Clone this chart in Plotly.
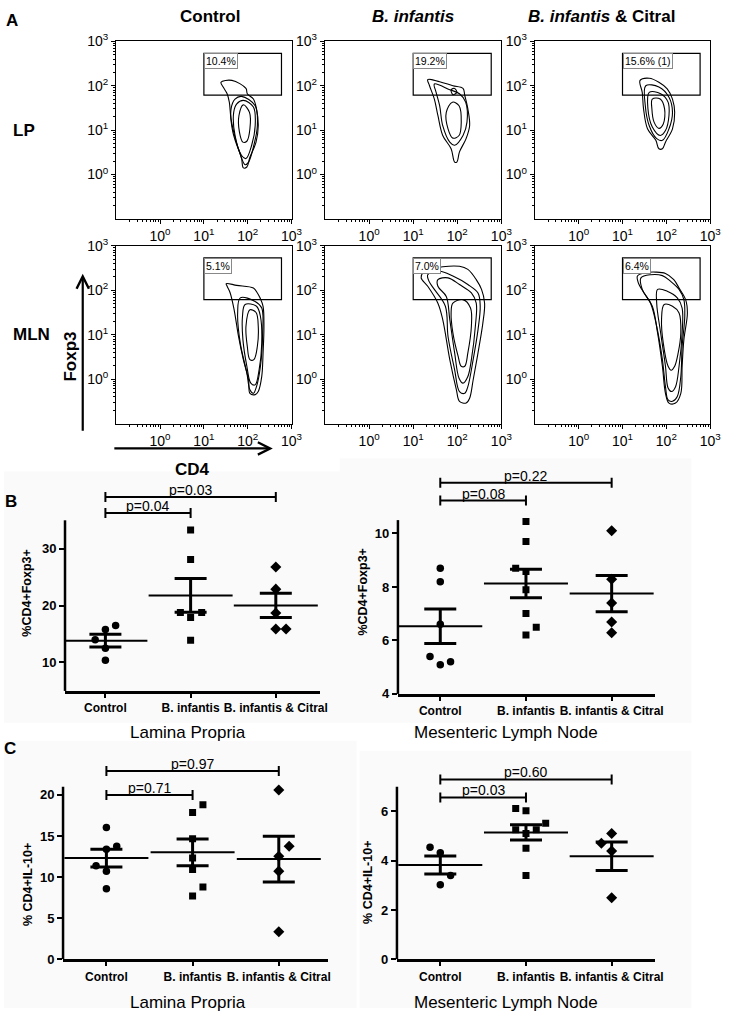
import numpy as np
import plotly.graph_objects as go

W, H = 733, 1016
FONT = "Liberation Sans, Arial, Helvetica, sans-serif"

# ======================= DATA =======================
# ---- Panel A: flow cytometry (x = log10 CD4, y = log10 Foxp3) ----
flow_col_titles = ["<b>Control</b>", "<b><i>B. infantis</i></b>", "<b><i>B. infantis</i> & Citral</b>"]
flow_row_titles = ["<b>LP</b>", "<b>MLN</b>"]
decade_vals = [0, 1, 2, 3]
decade_text = ["10<sup>0</sup>", "10<sup>1</sup>", "10<sup>2</sup>", "10<sup>3</sup>"]
gate_x = [1.0, 2.77]
gate_y = [1.79, 2.73]
lp_gate_labels = ["10.4%", "19.2%", "15.6% (1)"]
mln_gate_labels = ["5.1%", "7.0%", "6.4%"]

lp_control_contours = [
    [(1.39, 2.08), (1.64, 2.12), (1.96, 1.94), (1.99, 1.82), (2.13, 1.70), (2.20, 1.48), (2.24, 1.10),
     (2.19, 0.73), (2.05, 0.39), (1.98, 0.17), (1.90, 0.15), (1.86, 0.36), (1.74, 0.73), (1.62, 1.25),
     (1.58, 1.63), (1.53, 1.82), (1.44, 1.97)],
    [(1.86, 1.76), (2.17, 1.55), (2.22, 1.10), (2.14, 0.66), (2.02, 0.28), (1.94, 0.22), (1.81, 0.51),
     (1.66, 0.96), (1.62, 1.48), (1.71, 1.70)],
    [(1.90, 1.67), (2.13, 1.52), (2.17, 1.10), (2.09, 0.66), (1.96, 0.36), (1.86, 0.43), (1.71, 0.88),
     (1.68, 1.40), (1.75, 1.59)],
    [(1.90, 1.57), (2.04, 1.40), (2.05, 1.03), (1.98, 0.75), (1.89, 0.73), (1.81, 0.96), (1.80, 1.33)],
]
lp_binf_contours = [
    [(1.33, 2.14), (1.60, 2.09), (1.90, 2.00), (2.13, 1.94), (2.17, 1.78), (2.24, 1.48), (2.28, 1.10),
     (2.20, 0.81), (2.05, 0.51), (1.99, 0.28), (1.94, 0.28), (1.86, 0.58), (1.67, 0.88), (1.56, 1.33),
     (1.48, 1.70), (1.37, 2.00)],
    [(1.48, 2.04), (1.83, 1.91), (2.05, 1.82), (2.19, 1.63), (2.22, 1.18), (2.13, 0.88), (1.94, 0.66),
     (1.83, 0.73), (1.67, 1.10), (1.60, 1.55), (1.52, 1.85)],
    [(1.89, 1.63), (2.04, 1.55), (2.09, 1.18), (2.04, 0.88), (1.90, 0.82), (1.79, 1.03), (1.75, 1.40)],
    [(1.86, 1.91), (1.94, 1.94), (1.99, 1.85), (1.90, 1.80)],
]
lp_citral_contours = [
    [(1.40, 2.12), (1.61, 2.17), (1.83, 2.08), (2.02, 1.93), (2.14, 1.70), (2.19, 1.40), (2.14, 1.03),
     (1.98, 0.73), (1.91, 0.58), (1.83, 0.58), (1.76, 0.77), (1.57, 1.03), (1.48, 1.48), (1.45, 1.85)],
    [(1.53, 2.00), (1.83, 1.97), (2.06, 1.74), (2.14, 1.40), (2.06, 1.03), (1.91, 0.77), (1.78, 0.81),
     (1.61, 1.10), (1.52, 1.55)],
    [(1.61, 1.85), (1.87, 1.82), (2.04, 1.63), (2.06, 1.33), (1.98, 0.99), (1.86, 0.88), (1.68, 1.07),
     (1.58, 1.48)],
    [(1.68, 1.70), (1.86, 1.70), (1.96, 1.48), (1.93, 1.14), (1.83, 1.04), (1.72, 1.18), (1.67, 1.48)],
]
mln_control_contours = [
    [(1.51, 2.15), (1.75, 2.11), (2.13, 2.05), (2.22, 1.94), (2.28, 1.83), (2.35, 1.64), (2.37, 1.19),
     (2.35, 0.59), (2.32, 0.06), (2.24, -0.28), (2.17, -0.35), (2.05, -0.32), (2.02, -0.02), (1.90, 0.44),
     (1.79, 0.96), (1.69, 1.56), (1.60, 1.94), (1.53, 2.09)],
    [(1.83, 1.83), (2.17, 1.75), (2.32, 1.60), (2.34, 1.04), (2.29, 0.29), (2.20, -0.17), (2.13, -0.32),
     (2.05, -0.24), (1.98, 0.14), (1.83, 0.81), (1.77, 1.49)],
    [(1.94, 1.68), (2.20, 1.64), (2.29, 1.41), (2.32, 0.81), (2.26, 0.21), (2.17, -0.13), (2.07, -0.09),
     (1.98, 0.29), (1.89, 0.89), (1.88, 1.41)],
    [(2.05, 1.56), (2.19, 1.50), (2.24, 1.19), (2.22, 0.74), (2.14, 0.44), (2.05, 0.44), (1.99, 0.74),
     (1.96, 1.19)],
]
mln_binf_contours = [
    [(1.22, 2.39), (1.45, 2.48), (1.67, 2.53), (2.05, 2.54), (2.24, 2.47), (2.43, 2.24), (2.55, 2.02),
     (2.62, 1.71), (2.58, 1.26), (2.47, 0.59), (2.36, -0.02), (2.28, -0.43), (2.20, -0.54), (2.05, -0.50),
     (1.98, -0.24), (1.83, 0.44), (1.67, 1.34), (1.56, 1.71), (1.33, 2.09), (1.18, 2.28)],
    [(1.33, 2.35), (1.60, 2.43), (1.90, 2.32), (2.24, 2.13), (2.47, 1.94), (2.52, 1.64), (2.47, 1.11),
     (2.36, 0.44), (2.24, -0.17), (2.17, -0.32), (2.05, -0.28), (1.94, 0.21), (1.79, 0.96), (1.73, 1.64),
     (1.48, 2.02), (1.36, 2.20)],
    [(1.56, 2.24), (1.79, 2.28), (2.05, 2.13), (2.32, 1.94), (2.43, 1.71), (2.41, 1.19), (2.32, 0.44),
     (2.24, 0.06), (2.13, -0.09), (2.04, 0.02), (1.94, 0.59), (1.83, 1.34), (1.75, 1.86), (1.56, 2.09)],
    [(1.90, 1.71), (2.13, 1.79), (2.30, 1.60), (2.32, 1.19), (2.24, 0.59), (2.17, 0.29), (2.09, 0.29),
     (2.02, 0.51), (1.90, 1.04), (1.86, 1.49)],
]
mln_citral_contours = [
    [(1.34, 2.32), (1.49, 2.39), (1.76, 2.41), (1.98, 2.38), (2.17, 2.24), (2.29, 2.05), (2.44, 1.79),
     (2.48, 1.49), (2.40, 0.89), (2.36, 0.29), (2.33, -0.32), (2.21, -0.54), (2.06, -0.54), (1.98, -0.32),
     (1.91, 0.29), (1.80, 1.04), (1.68, 1.64), (1.49, 1.94), (1.36, 2.17)],
    [(1.42, 2.28), (1.64, 2.35), (1.91, 2.33), (2.10, 2.20), (2.29, 2.02), (2.40, 1.79), (2.42, 1.41),
     (2.36, 0.74), (2.33, 0.06), (2.25, -0.39), (2.14, -0.50), (2.04, -0.47), (1.98, -0.17), (1.91, 0.44),
     (1.78, 1.19), (1.64, 1.71), (1.45, 2.02)],
    [(1.80, 2.02), (2.02, 1.98), (2.25, 1.83), (2.36, 1.60), (2.36, 1.04), (2.29, 0.29), (2.21, -0.17),
     (2.12, -0.28), (2.04, -0.20), (1.98, 0.29), (1.87, 1.04), (1.78, 1.71)],
    [(1.95, 1.68), (2.14, 1.64), (2.29, 1.49), (2.33, 1.04), (2.27, 0.59), (2.19, 0.29), (2.11, 0.20),
     (2.04, 0.29), (1.93, 0.81), (1.89, 1.34)],
]

# ---- Panels B & C: scatter with mean +/- SEM ----
categories = ["Control", "B. infantis", "B. infantis & Citral"]

lp_foxp3_control = [15.8, 16.5, 14.0, 12.5, 10.4]
lp_foxp3_control_dx = [0, 0.12, -0.12, 0, 0]
lp_foxp3_binf = [33.3, 28.1, 18.8, 17.9, 18.8, 13.9]
lp_foxp3_binf_dx = [0, 0, -0.12, 0, 0.13, 0]
lp_foxp3_citral = [26.8, 22.9, 18.7, 15.9, 15.9]
lp_foxp3_citral_dx = [0, 0, 0, 0, 0.12]
lp_foxp3_brackets = [(0, 1, 36.3, "p=0.04"), (0, 2, 39.1, "p=0.03")]

mln_foxp3_control = [8.70, 8.19, 6.61, 5.40, 5.09, 5.20]
mln_foxp3_control_dx = [0, 0, 0, -0.12, 0, 0.12]
mln_foxp3_binf = [10.45, 9.70, 8.70, 8.58, 7.90, 7.01, 6.49, 6.20]
mln_foxp3_binf_dx = [0, 0, -0.12, 0, 0, 0, 0.12, 0]
mln_foxp3_citral = [10.10, 8.29, 7.40, 6.69, 6.29]
mln_foxp3_citral_dx = [0, 0, 0, 0, 0]
mln_foxp3_brackets = [(0, 1, 11.23, "p=0.08"), (0, 2, 11.9, "p=0.22")]

lp_il10_control = [16.05, 13.75, 13.4, 11.37, 10.73, 8.59]
lp_il10_control_dx = [0, 0.12, 0, -0.12, 0, 0]
lp_il10_binf = [17.86, 18.79, 14.68, 12.34, 10.93, 8.79, 7.7]
lp_il10_binf_dx = [0, 0.12, 0, 0, 0, 0.12, 0]
lp_il10_citral = [20.6, 13.75, 12.54, 10.73, 3.35]
lp_il10_citral_dx = [0, 0.12, 0, 0, 0]
lp_il10_brackets = [(0, 1, 20.0, "p=0.71"), (0, 2, 22.9, "p=0.97")]

mln_il10_control = [4.55, 4.33, 3.40, 3.03]
mln_il10_control_dx = [-0.12, 0, 0.12, 0]
mln_il10_binf = [6.12, 6.03, 5.52, 5.26, 5.26, 5.11, 4.51, 3.40]
mln_il10_binf_dx = [-0.12, 0, 0.23, -0.12, 0.12, 0, 0, 0]
mln_il10_citral = [5.11, 4.71, 4.40, 2.50]
mln_il10_citral_dx = [0, -0.12, 0, 0]
mln_il10_brackets = [(0, 1, 6.57, "p=0.03"), (0, 2, 7.3, "p=0.60")]

# ======================= LAYOUT HELPERS =======================
# vertical compensation for the page offset observed in the photographed page
VS, VO = 0.9844, 7.6


def X(px):
    return px / W


def fy(py):
    return (py - VO) / VS


def Y(py):
    return 1 - fy(py) / H


def axn(n):
    return "" if n == 1 else str(n)


fig = go.Figure()
layout = dict(width=W, height=H, margin=dict(l=0, r=0, t=0, b=0),
              paper_bgcolor="white", plot_bgcolor="rgba(0,0,0,0)", showlegend=False,
              font=dict(family=FONT, color="black"))
shapes = []
annotations = []

# very light grey panel backgrounds for B / C
for (x0, y0, x1, y1) in [(4, 470, 345, 722), (345, 457, 702, 722), (4, 740, 362, 1016), (365, 750, 702, 1016)]:
    shapes.append(dict(type="rect", xref="paper", yref="paper", x0=X(x0), x1=X(x1), y0=max(Y(y1), 0), y1=Y(y0),
                       fillcolor="#fafafa", line=dict(width=0), layer="below"))

# ---------------- Panel A ----------------
flow_cols_px = [(118, 296), (330, 509), (543, 721)]
flow_rows_px = [(39, 217), (244, 422)]
flow_contours = [[lp_control_contours, lp_binf_contours, lp_citral_contours],
                 [mln_control_contours, mln_binf_contours, mln_citral_contours]]
flow_labels = [lp_gate_labels, mln_gate_labels]
minor_vals = [d + np.log10(k) for d in range(-1, 3) for k in range(2, 10)]

n = 0
for r in range(2):
    for c in range(3):
        n += 1
        xl, xr = flow_cols_px[c]
        yt, yb = flow_rows_px[r]
        common = dict(range=[-1, 3], tickvals=decade_vals, ticktext=decade_text, ticks="outside",
                      ticklen=4, tickwidth=1, tickcolor="black", showline=True, mirror=True,
                      linecolor="black", linewidth=1.4, showgrid=False, zeroline=False, tickangle=0,
                      minor=dict(tickvals=minor_vals, ticks="outside", ticklen=2, tickwidth=1,
                                 tickcolor="black", showgrid=False),
                      tickfont=dict(size=14, family=FONT, color="black"))
        layout["xaxis" + axn(n)] = dict(domain=[X(xl), X(xr)], anchor="y" + axn(n), **common)
        layout["yaxis" + axn(n)] = dict(domain=[Y(yb), Y(yt)], anchor="x" + axn(n), **common)
        for poly in flow_contours[r][c]:
            xs = [p[0] for p in poly] + [poly[0][0]]
            ys = [p[1] for p in poly] + [poly[0][1]]
            fig.add_trace(go.Scatter(x=xs, y=ys, mode="lines", xaxis="x" + axn(n), yaxis="y" + axn(n),
                                     line=dict(color="black", width=1.1, shape="spline", smoothing=1),
                                     hoverinfo="skip"))
        shapes.append(dict(type="rect", xref="x" + axn(n), yref="y" + axn(n), x0=gate_x[0], x1=gate_x[1],
                           y0=gate_y[0], y1=gate_y[1], line=dict(color="black", width=1.2)))
        annotations.append(dict(xref="x" + axn(n), yref="y" + axn(n), x=gate_x[0], y=gate_y[1],
                                xanchor="left", yanchor="top", text=flow_labels[r][c], showarrow=False,
                                font=dict(size=10.5, family=FONT, color="black"), bgcolor="white",
                                bordercolor="#888", borderwidth=1, borderpad=1))

# column / row titles
for c, (t, cx) in enumerate(zip(flow_col_titles, [213, 419, 611])):
    annotations.append(dict(xref="paper", yref="paper", x=X(cx), y=Y(14), text=t, showarrow=False,
                            font=dict(size=17, family=FONT), xanchor="center", yanchor="middle"))
for t, (cx, cy) in zip(flow_row_titles, [(24, 128), (32, 333)]):
    annotations.append(dict(xref="paper", yref="paper", x=X(cx), y=Y(cy), text=t, showarrow=False,
                            font=dict(size=17, family=FONT), xanchor="center", yanchor="middle"))
for t, (cx, cy) in zip(["<b>A</b>", "<b>B</b>", "<b>C</b>"], [(12, 18), (11, 500), (10, 748)]):
    annotations.append(dict(xref="paper", yref="paper", x=X(cx), y=Y(cy), text=t, showarrow=False,
                            font=dict(size=17, family=FONT), xanchor="center", yanchor="middle"))
annotations.append(dict(xref="paper", yref="paper", x=X(72), y=Y(355), text="<b>Foxp3</b>", textangle=-90,
                        showarrow=False, font=dict(size=17, family=FONT), xanchor="center", yanchor="middle"))
annotations.append(dict(xref="paper", yref="paper", x=X(195), y=Y(468), text="<b>CD4</b>",
                        showarrow=False, font=dict(size=17, family=FONT), xanchor="center", yanchor="middle"))
# axis arrows
annotations.append(dict(xref="paper", yref="paper", x=X(84), y=Y(272), ax=0, ay=fy(428) - fy(272), text="",
                        showarrow=True, arrowhead=5, arrowsize=1.1, arrowwidth=2.2, arrowcolor="black"))
annotations.append(dict(xref="paper", yref="paper", x=X(277), y=Y(447), ax=-160, ay=0, text="", showarrow=True,
                        arrowhead=5, arrowsize=1.1, arrowwidth=2.2, arrowcolor="black"))

# ---------------- Panels B & C ----------------
stat_panels = [
    dict(n=7, groups=[(lp_foxp3_control, lp_foxp3_control_dx), (lp_foxp3_binf, lp_foxp3_binf_dx),
                      (lp_foxp3_citral, lp_foxp3_citral_dx)], brackets=lp_foxp3_brackets,
         xpx=(66, 325), xr=(-0.474, 2.520), ypx=(488, 690), ybot=5, ppu=5.7, yticks=[10, 20, 30], ytop=35,
         ytitle="<b>%CD4+Foxp3+</b>", ytitle_px=(28, 592), label="Lamina Propria", label_px=(191, 732)),
    dict(n=8, groups=[(mln_foxp3_control, mln_foxp3_control_dx), (mln_foxp3_binf, mln_foxp3_binf_dx),
                      (mln_foxp3_citral, mln_foxp3_citral_dx)], brackets=mln_foxp3_brackets,
         xpx=(404, 665), xr=(-0.494, 2.506), ypx=(472, 693), ybot=4, ppu=26.8, yticks=[4, 6, 8, 10], ytop=10.5,
         ytitle="<b>%CD4+Foxp3+</b>", ytitle_px=(369, 590), label="Mesenteric Lymph Node", label_px=(514, 732)),
    dict(n=9, groups=[(lp_il10_control, lp_il10_control_dx), (lp_il10_binf, lp_il10_binf_dx),
                      (lp_il10_citral, lp_il10_citral_dx)], brackets=lp_il10_brackets,
         xpx=(64, 333), xr=(-0.503, 2.571), ypx=(762, 959), ybot=0, ppu=8.24, yticks=[0, 5, 10, 15, 20], ytop=21,
         ytitle="<b>% CD4+IL-10+</b>", ytitle_px=(28, 884), label="Lamina Propria", label_px=(191, 1002)),
    dict(n=10, groups=[(mln_il10_control, mln_il10_control_dx), (mln_il10_binf, mln_il10_binf_dx),
                       (mln_il10_citral, mln_il10_citral_dx)], brackets=mln_il10_brackets,
         xpx=(403, 665), xr=(-0.506, 2.506), ypx=(770, 959), ybot=0, ppu=24.7, yticks=[0, 2, 4, 6], ytop=7,
         ytitle="<b>% CD4+IL-10+</b>", ytitle_px=(373, 882), label="Mesenteric Lymph Node", label_px=(514, 1002)),
]
symbols = ["circle", "square", "diamond"]
msizes = [7.5, 7, 8.5]

for p in stat_panels:
    k = str(p["n"])
    xa, ya = "x" + k, "y" + k
    yt, yb = p["ypx"]
    ytop_range = p["ybot"] + (yb - yt) / p["ppu"]
    layout["xaxis" + k] = dict(domain=[X(p["xpx"][0]), X(p["xpx"][1])], range=list(p["xr"]), anchor=ya,
                               tickvals=[0, 1, 2], ticktext=categories, ticks="outside", ticklen=4,
                               tickwidth=2, tickcolor="black", showline=True, linewidth=2.5, linecolor="black",
                               showgrid=False, zeroline=False, tickangle=0,
                               tickfont=dict(size=12, family=FONT, color="black", weight="bold"))
    layout["yaxis" + k] = dict(domain=[Y(yb), Y(yt)], range=[p["ybot"], ytop_range], anchor=xa,
                               tickvals=p["yticks"], ticks="outside", ticklen=5, tickwidth=2, tickcolor="black",
                               showline=False, showgrid=False, zeroline=False,
                               tickfont=dict(size=13, family=FONT, color="black", weight="bold"))
    shapes.append(dict(type="line", xref=xa + " domain", yref=ya, x0=0, x1=0, y0=p["ybot"], y1=p["ytop"],
                       line=dict(color="black", width=2.5)))
    for i, (vals, dx) in enumerate(p["groups"]):
        v = np.array(vals, dtype=float)
        fig.add_trace(go.Scatter(x=[i + d for d in dx], y=vals, mode="markers", xaxis=xa, yaxis=ya,
                                 marker=dict(symbol=symbols[i], size=msizes[i], color="black"),
                                 hoverinfo="skip"))
        mean = float(v.mean())
        sem = float(v.std(ddof=1) / np.sqrt(len(v)))
        fig.add_trace(go.Scatter(x=[i], y=[mean], mode="markers", xaxis=xa, yaxis=ya,
                                 marker=dict(symbol="line-ew", size=60, color="black",
                                             line=dict(width=2, color="black")),
                                 error_y=dict(type="data", array=[sem], visible=True, thickness=3, width=16,
                                              color="black"),
                                 hoverinfo="skip"))
    cap = 5 / p["ppu"]
    for (i0, i1, yv, txt) in p["brackets"]:
        fig.add_trace(go.Scatter(x=[i0, i0, None, i0, i1, None, i1, i1],
                                 y=[yv - cap, yv + cap, None, yv, yv, None, yv - cap, yv + cap],
                                 mode="lines", xaxis=xa, yaxis=ya, line=dict(color="black", width=2),
                                 hoverinfo="skip"))
        annotations.append(dict(xref=xa, yref=ya, x=(i0 + i1) / 2, y=yv, text=txt, showarrow=False,
                                xanchor="center", yanchor="bottom", yshift=-3,
                                font=dict(size=14, family=FONT, color="black")))
    annotations.append(dict(xref="paper", yref="paper", x=X(p["ytitle_px"][0]), y=Y(p["ytitle_px"][1]),
                            text=p["ytitle"], textangle=-90, showarrow=False, xanchor="center",
                            yanchor="middle", font=dict(size=12.5, family=FONT, color="black")))
    annotations.append(dict(xref="paper", yref="paper", x=X(p["label_px"][0]), y=Y(p["label_px"][1]),
                            text=p["label"], showarrow=False, xanchor="center", yanchor="middle",
                            font=dict(size=17, family=FONT, color="black")))

layout["shapes"] = shapes
layout["annotations"] = annotations
fig.update_layout(**layout)
fig.write_html(
    "out.html",
    config={"displayModeBar": False},
    post_script="document.body.style.margin='0px';",
)
